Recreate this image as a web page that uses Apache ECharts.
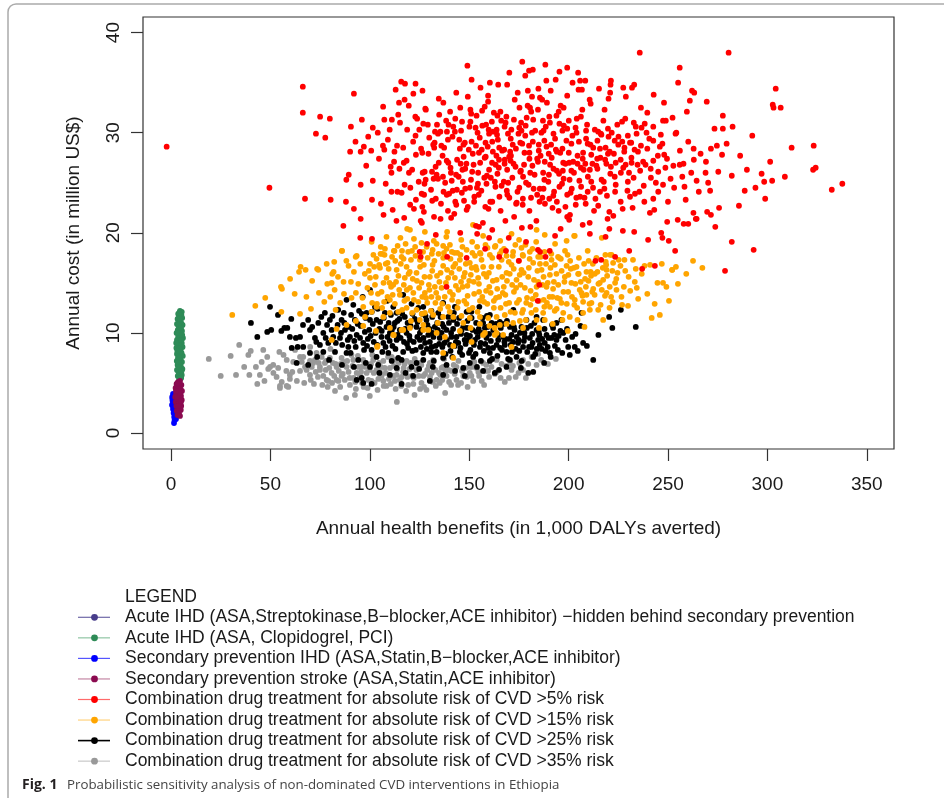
<!DOCTYPE html>
<html><head><meta charset="utf-8">
<script src="https://cdn.jsdelivr.net/npm/echarts@6/dist/echarts.min.js"></script>
<style>html,body{margin:0;padding:0;background:#fff}#c{width:944px;height:798px}</style>
</head><body><div id="c"></div>
<script>
// ---------------- DATA ----------------
const seriesNames = [
  'Acute IHD (ASA,Streptokinase,B\u2212blocker,ACE inhibitor) \u2212hidden behind secondary prevention',
  'Acute IHD (ASA, Clopidogrel, PCI)',
  'Secondary prevention IHD (ASA,Statin,B\u2212blocker,ACE inhibitor)',
  'Secondary prevention stroke (ASA,Statin,ACE inhibitor)',
  'Combination drug treatment for absolute risk of CVD >5% risk',
  'Combination drug treatment for absolute risk of CVD >15% risk',
  'Combination drug treatment for absolute risk of CVD >25% risk',
  'Combination drug treatment for absolute risk of CVD >35% risk'
];
const xTicks = [0, 50, 100, 150, 200, 250, 300, 350];
const yTicks = [0, 10, 20, 30, 40];

const acuteIHD1 = [[3.0,3.5],[3.5,3.0],[4.0,3.8],[3.2,2.5],[3.8,4.2],[3.4,3.9],[4.2,2.9]];

const acuteIHD2 = [[4.5,12.2],[5.4,12.1],[3.6,11.9],[4.8,11.7],[5.6,11.5],[3.3,11.4],[4.2,11.2],[5.1,11.0],[3.0,10.9],[5.8,10.8],[4.0,10.6],[4.7,10.4],[3.4,10.3],[5.5,10.2],[2.8,10.0],[4.3,9.9],[5.0,9.7],[3.6,9.6],[6.0,9.5],[3.0,9.3],[4.6,9.2],[5.4,9.0],[3.3,8.9],[4.1,8.7],[5.8,8.6],[2.7,8.5],[4.9,8.4],[3.7,8.2],[5.3,8.0],[3.0,7.9],[4.4,7.8],[5.9,7.7],[3.5,7.5],[4.8,7.3],[2.9,7.2],[5.5,7.1],[4.0,7.0],[3.3,6.8],[5.0,6.6],[4.3,6.5],[5.7,6.4],[3.0,6.3],[3.8,6.1],[4.9,6.0],[5.4,5.8],[3.4,5.7],[4.5,5.6],[4.1,5.4],[5.1,5.5],[3.7,10.8],[4.4,10.0],[3.9,9.0],[4.5,8.1],[4.0,7.5],[4.6,6.8],[3.9,11.5],[5.2,11.8],[4.1,12.0],[3.5,10.0],[5.2,9.3],[4.2,8.4],[3.5,7.0],[5.3,6.2],[4.6,11.4],[3.2,8.2],[5.0,10.5],[3.8,6.6],[5.6,9.8],[2.6,9.0]];

const secIHD = [[1.0,3.9],[0.6,3.6],[1.5,3.4],[0.8,3.2],[1.2,3.0],[0.5,2.8],[1.4,2.6],[1.0,2.4],[1.7,2.2],[1.3,2.0],[2.0,1.8],[1.6,1.6],[2.2,1.5],[1.8,1.3],[1.5,1.0],[2.5,1.4],[0.7,3.4],[1.1,2.7]];

const secStroke = [[3.6,5.1],[4.5,5.2],[2.8,4.9],[5.2,4.8],[3.9,4.7],[2.3,4.5],[4.7,4.4],[3.2,4.3],[5.5,4.2],[4.1,4.1],[2.6,3.9],[3.6,3.8],[5.0,3.7],[2.1,3.6],[4.4,3.5],[3.1,3.4],[5.4,3.3],[3.9,3.2],[2.4,3.1],[4.8,3.0],[3.4,2.9],[5.1,2.7],[2.7,2.7],[4.2,2.6],[3.5,2.4],[4.9,2.3],[2.9,2.2],[4.0,2.0],[3.3,1.8],[4.5,1.7],[3.8,4.4],[4.3,3.0],[3.0,3.6],[4.6,4.0],[2.5,4.2],[3.7,2.7],[5.0,3.2],[4.0,5.0],[3.3,5.0]];

const risk5 = [[-2.2,28.6],[49.5,24.5],[235.8,38.0],[280.5,38.0],
[176.7,37.1],[149.1,36.7],[255.9,36.5],[199.3,36.5],[182.0,36.3],[180.1,36.2],[195.4,36.1],[204.8,36.0],[178.2,35.7],
[66.3,34.6],[151.2,35.3],[160.4,35.0],[169.1,34.8],[188.8,35.2],[193.5,35.3],[202.0,35.0],[205.8,35.2],[208.4,35.2],[221.3,35.2],[221.1,34.8],[255.1,35.0],[115.8,35.1],[117.7,34.9],[123.0,34.9],[155.7,34.5],[184.8,34.4],[191.0,34.2],[179.5,34.2],[174.4,34.0],[205.0,34.3],[206.7,34.3],[233.0,34.8],[231.9,34.5],[227.5,34.5],[220.9,34.0],[304.2,34.4],[113.0,34.3],[92.0,33.9],[121.9,33.9],[149.3,33.6],[159.5,33.7],[262.1,34.2],[263.2,34.0],
[66.3,32.0],[134.7,33.4],[117.5,33.3],[114.7,33.0],[119.6,32.7],[106.7,32.6],[127.9,32.4],[75.0,31.6],[79.9,31.4],[181.6,33.6],[185.6,33.5],[186.7,33.3],[172.9,33.3],[159.5,33.1],[199.3,33.7],[220.1,33.4],[228.8,33.6],[242.8,33.8],[261.0,33.2],[269.5,33.1],[175.3,32.5],[180.6,32.5],[184.6,32.3],[189.1,33.0],[196.0,32.7],[197.5,32.5],[206.9,32.3],[211.1,32.9],[218.1,32.3],[157.8,32.6],[156.5,32.2],[236.4,32.5],[259.5,32.1],[302.7,32.8],[303.1,32.5],[306.7,32.5],[140.4,32.1],[150.6,32.3],[165.7,32.1],[181.2,32.1],[195.0,32.1],
[72.9,29.9],[77.6,29.5],[90.5,30.6],[96.0,31.3],[101.5,30.5],[99.2,29.6],[107.3,31.3],[111.1,31.3],[114.3,31.8],[123.8,31.4],[118.8,30.3],[110.0,30.3],[124.9,30.3],[129.2,30.8],[133.8,30.8],[134.3,29.9],[123.0,29.7],[135.5,30.1],[139.6,30.8],[143.0,31.4],[146.4,31.1],[150.6,31.1],[145.9,30.2],[142.8,30.1],[153.2,30.5],[154.2,30.0],[158.5,30.8],[161.4,31.1],[164.2,31.7],[168.7,31.6],[172.5,31.3],[176.1,31.0],[178.4,30.7],[182.2,31.3],[187.1,31.2],[190.3,31.6],[193.9,31.7],[200.1,31.2],[204.1,31.4],[199.3,30.4],[203.5,30.5],[208.8,30.2],[214.9,30.1],[219.8,30.4],[216.5,29.8],[160.0,29.9],[163.8,30.3],[167.8,30.6],[169.5,29.9],[174.8,29.9],[176.3,30.2],[178.2,29.7],[181.6,30.0],[187.4,30.2],[192.4,29.9],[196.9,30.2],[228.5,31.4],[232.8,31.0],[233.8,30.6],[238.3,30.9],[242.6,30.6],[247.5,31.2],[248.9,31.2],[239.2,30.0],[246.4,29.8],[253.8,29.9],[273.4,30.4],[277.6,30.4],[282.5,30.6],[277.6,31.7],[225.1,29.6],[229.8,29.7],
[90.1,28.1],[92.8,29.1],[95.4,28.1],[100.7,28.2],[106.6,28.7],[107.3,28.3],[112.4,28.1],[113.7,28.7],[116.8,28.5],[123.2,27.8],[126.4,28.0],[132.6,29.0],[132.4,28.5],[137.4,28.5],[139.3,29.3],[145.3,28.4],[147.8,29.0],[151.2,29.1],[153.4,28.7],[156.3,28.3],[158.2,29.0],[161.6,29.1],[164.4,29.3],[161.9,28.1],[165.1,28.5],[167.6,28.3],[170.6,28.1],[171.9,28.8],[176.7,28.9],[180.1,28.7],[185.0,28.8],[187.8,29.2],[191.2,28.8],[196.9,28.4],[201.4,28.9],[205.2,29.1],[209.6,28.9],[212.4,28.5],[214.5,29.2],[218.6,28.5],[220.7,28.1],[223.2,29.2],[227.0,29.1],[228.1,28.5],[231.5,29.0],[233.2,28.3],[236.4,28.7],[242.6,29.2],[247.2,28.9],[248.1,27.8],[260.2,29.1],[262.9,28.4],[271.6,28.4],[274.6,28.7],[277.2,27.8],[312.2,28.5],[323.3,28.7],[171.0,27.7],[180.3,28.0],[194.1,28.1],[207.3,28.0],
[89.4,25.8],[88.2,25.3],[95.4,24.8],[101.5,25.2],[110.5,26.6],[110.9,26.0],[114.9,26.4],[117.1,27.0],[121.3,26.3],[126.6,26.0],[128.1,25.3],[131.3,26.1],[133.6,25.8],[134.7,27.0],[138.7,27.2],[140.6,26.5],[143.4,25.8],[145.7,26.9],[147.2,27.6],[148.0,26.4],[151.5,26.1],[155.5,27.0],[158.3,27.6],[160.0,26.3],[157.6,25.5],[163.3,26.8],[165.0,27.3],[167.8,26.9],[169.1,26.3],[170.8,27.2],[173.3,26.6],[175.7,26.1],[177.6,26.8],[181.8,26.7],[184.2,27.4],[185.9,27.7],[188.0,27.1],[190.7,26.8],[192.4,26.4],[190.1,25.8],[195.2,25.9],[197.3,27.0],[200.3,27.0],[201.4,26.2],[204.5,26.9],[206.2,26.5],[208.4,26.9],[212.0,26.9],[210.7,26.3],[214.5,26.4],[216.0,27.5],[219.0,26.9],[221.3,26.6],[223.7,27.0],[226.2,27.3],[227.5,26.5],[230.4,26.0],[231.7,27.0],[234.7,26.8],[237.5,27.1],[242.6,27.2],[241.3,26.4],[245.1,26.1],[248.7,26.5],[252.7,26.7],[255.9,26.8],[257.8,26.9],[261.7,26.0],[263.0,27.3],[269.1,27.1],[268.9,26.0],[275.3,26.1],[282.1,25.7],[289.7,26.3],[297.1,25.9],[301.4,27.1],[302.4,25.2],[308.8,25.6],[323.0,26.3],[324.3,26.5],[337.7,24.9],[332.4,24.3],[294.0,24.5],[288.6,24.2],[298.9,23.4],[285.7,22.7],[298.4,25.1],
[67.4,23.4],[80.3,23.3],[88.0,23.1],[92.0,22.4],[95.4,21.4],[105.6,22.9],[106.9,21.8],[110.9,24.1],[113.9,24.1],[117.5,24.8],[120.4,24.5],[127.5,24.9],[127.3,23.8],[123.2,23.3],[122.2,22.4],[126.4,22.6],[127.2,22.1],[132.1,25.4],[133.2,23.4],[136.8,25.6],[138.7,23.8],[139.3,22.2],[141.7,24.2],[143.0,23.1],[143.8,24.3],[146.8,25.1],[147.4,23.2],[148.7,22.3],[150.4,24.5],[152.5,23.1],[154.4,24.9],[154.8,23.8],[158.7,24.9],[159.7,22.4],[161.6,23.1],[162.9,25.1],[164.2,25.9],[166.3,24.7],[168.9,24.2],[170.2,23.5],[173.6,22.9],[175.2,24.5],[177.0,23.4],[179.9,24.8],[180.3,22.2],[184.2,23.8],[185.4,23.1],[187.4,24.4],[187.8,25.3],[190.3,23.4],[192.7,24.1],[194.1,23.1],[195.4,24.6],[197.5,25.4],[198.4,22.6],[199.3,23.8],[200.7,21.8],[201.6,24.4],[203.9,23.5],[206.3,24.6],[208.6,22.9],[209.6,24.1],[211.4,25.1],[213.5,23.4],[215.8,24.1],[217.7,25.1],[219.6,21.4],[220.5,22.1],[223.4,24.1],[226.2,23.1],[229.6,24.2],[230.9,23.6],[232.2,22.5],[235.6,24.1],[238.1,23.1],[240.9,22.0],[242.6,23.4],[245.1,24.1],[247.5,24.8],[250.0,23.1],[249.6,21.1],[254.9,21.3],[257.9,20.9],[260.2,20.9],[264.4,21.4],[269.7,22.1],[271.6,21.8],[273.8,20.6],[275.7,22.5],[265.5,24.1],[271.2,24.2],[258.3,24.6],[264.4,25.2],
[86.7,20.7],[95.2,19.5],[101.1,19.4],[113.4,21.2],[117.3,21.5],[125.6,21.2],[126.2,21.0],[132.3,21.6],[140.9,21.5],[153.4,20.7],[154.9,20.6],[154.0,19.9],[160.0,19.5],[168.2,21.2],[169.9,19.5],[176.5,20.5],[178.6,19.1],[190.5,18.2],[185.6,18.1],[196.0,20.4],[200.3,21.3],[218.6,19.6],[220.5,20.4],[227.3,20.2],[233.0,20.1],[230.5,18.2],[237.0,16.4],[243.4,16.7],[247.2,19.5],[250.4,19.2],[253.6,18.2],[264.0,21.4],[282.1,19.1],[293.1,18.3],[278.7,16.2],[125.1,18.1],[125.6,17.6],[138.9,17.6],[148.7,17.5],[165.1,17.6],[168.5,18.2],[184.6,18.3],[188.4,17.6],[223.4,17.6],[213.5,17.2],[216.4,17.3],[138.6,14.6],[185.3,14.8],[184.5,13.2],
[118.5,27.2],[121.8,29.1],[124.6,25.1],[126.9,30.9],[129.5,27.9],[130.8,24.3],[131.9,28.8],[133.1,26.6],[134.9,31.8],[135.8,22.9],[136.6,27.7],[137.9,25.0],[138.8,30.1],[139.9,23.9],[140.8,26.0],[141.6,29.6],[142.5,21.9],[143.9,27.3],[144.7,25.6],[145.5,32.5],[146.3,24.0],[147.1,28.8],[148.6,26.9],[149.3,22.6],[150.1,30.6],[150.9,25.3],[151.8,27.9],[152.6,23.6],[153.7,31.7],[154.5,26.0],[155.3,29.5],[156.1,24.2],[156.9,21.0],[157.8,27.5],[158.9,25.7],[159.8,30.3],[160.6,23.1],[161.5,27.0],[162.4,32.0],[163.2,24.6],[164.0,29.8],[164.9,26.5],[165.8,22.2],[166.6,28.2],[167.4,25.1],[168.3,31.0],[169.2,23.8],[170.1,27.6],[170.9,29.4],[171.7,25.5],[172.6,21.6],[173.5,28.4],[174.3,24.1],[175.2,30.5],[176.0,26.2],[176.9,22.8],[177.8,28.0],[178.6,25.0],[179.4,32.7],[180.3,27.4],[181.1,23.5],[182.0,29.1],[182.9,25.8],[183.8,21.2],[184.6,27.1],[185.5,24.4],[186.3,30.0],[187.2,26.0],[188.1,22.9],[188.9,28.6],[189.8,25.1],[190.6,31.0],[191.5,27.5],[192.3,23.7],[193.2,29.4],[194.1,26.2],[195.0,22.2],[195.8,28.0],[196.7,24.9],[197.6,30.7],[198.4,26.9],[199.3,21.6],[200.1,28.0],[201.0,24.0],[201.9,29.7],[202.7,26.0],[203.6,22.8],[204.5,27.7],[205.4,25.2],[206.2,31.6],[207.1,27.4],[208.0,23.5],[208.8,29.4],[209.7,25.6],[210.6,21.0],[211.4,27.8],[212.3,24.5],[213.2,30.3],[214.0,26.7],[214.9,22.7],[215.8,28.4],[216.6,25.3],[217.5,31.2],[218.4,27.3],[219.3,23.7],[220.1,29.6],[221.0,25.9],[222.8,27.9],[223.7,24.8],[224.5,30.8],[226.3,26.0],[227.2,22.4],[228.0,28.1],[229.8,25.1],[231.6,27.5],[233.4,23.9],[234.2,29.9],[236.0,26.2],[237.8,24.7],[239.6,28.4],[241.4,25.5],[243.1,22.3],[244.9,27.7],[120.3,22.8],[122.9,31.6],[126.1,23.9],[128.2,32.3],[112.2,27.1],[109.1,29.3],[104.6,27.4],[101.1,23.3],[98.2,26.7],[116.0,24.0],[119.7,26.0],[108.0,24.9],[104.0,30.0],[97.0,28.6],[111.5,22.3],[115.2,31.0],[126.5,34.2],[137.0,33.0],[143.5,34.0],[164.6,34.8],[170.2,36.0],[188.3,36.8],[210.6,33.3],[215.3,34.4],[239.6,32.0],[248.0,33.0],[252.3,31.5],[256.0,28.2],[258.9,23.3],[253.1,24.5],[266.4,27.9],[270.2,25.0],[279.5,28.9],[286.3,27.7],[292.4,29.7],[262.8,22.0],[246.6,20.0],[240.0,19.3],[210.7,19.9],[193.2,19.7],[180.8,20.6],[161.6,20.3],[145.5,20.0],[133.2,19.8],[128.8,18.9],[175.0,17.2],[158.0,18.4],[135.6,21.4],[222.5,21.7],[207.1,20.8],
[125.8,28.4],[127.6,26.1],[129.9,29.5],[131.4,23.2],[132.8,30.1],[134.3,25.4],[136.0,28.7],[137.1,24.1],[138.4,31.2],[139.5,27.0],[141.2,25.2],[142.0,30.6],[143.5,22.8],[145.0,29.3],[146.6,26.3],[148.0,24.4],[149.8,28.3],[151.0,31.9],[152.2,26.8],[153.9,24.5],[154.9,28.0],[156.6,30.7],[158.1,22.6],[159.3,28.6],[160.9,25.5],[162.0,30.1],[163.7,27.7],[165.2,23.6],[166.1,31.2],[167.9,27.3],[169.6,25.0],[171.2,30.3],[172.3,26.9],[173.9,23.0],[175.7,29.0],[177.1,25.6],[178.9,31.5],[180.7,26.0],[182.4,24.4],[183.2,30.2],[185.0,28.2],[186.8,23.5],[188.5,30.6],[190.0,27.9],[191.9,22.5],[193.6,28.3],[195.4,30.9],[197.1,26.2],[198.9,29.2],[200.5,25.3],[202.3,27.1],[204.0,30.0],[205.8,23.6],[207.6,26.3],[209.3,30.8],[211.0,28.8],[212.8,22.2],[214.4,27.4],[216.2,29.9],[218.0,24.4],[219.8,27.9],[221.7,30.0],[223.2,25.6],[225.0,28.8],[226.9,31.1],[228.7,26.8],[230.9,29.0],[232.7,25.5],[234.9,28.1],[236.7,30.5],[238.7,26.8],[240.6,29.4],[243.9,25.0],[245.9,28.6],[249.5,27.4],[251.3,25.4],[254.2,30.0],[257.2,25.6]];

const risk15 = [[30.8,11.8],[42.4,12.7],[47.4,13.5],[55.3,14.6],[55.8,14.4],[55.5,12.1],[64.9,11.9],[64.4,16.1],[67.7,16.3],[74.1,16.3],[78.3,16.9],[82.1,17.1],[86.0,18.2],[89.3,16.7],[93.4,17.7],[95.2,16.9],[81.1,15.9],[84.0,15.6],[80.8,15.0],[86.8,15.1],[90.5,15.1],[94.2,14.9],[82.3,14.3],[87.0,13.9],[93.0,14.0],[77.1,13.1],[80.1,13.6],[82.8,12.3],[70.4,12.4],[97.5,15.9],[100.1,16.9],[103.4,17.4],[105.4,17.9],[107.4,17.8],[108.9,17.0],[112.1,18.2],[116.2,18.2],[117.0,17.4],[119.3,18.1],[121.2,18.2],[120.2,20.3],[127.7,20.1],[131.6,18.3],[131.2,17.9],[133.6,18.9],[136.9,18.7],[140.3,18.8],[141.3,18.1],[144.0,18.0],[148.7,18.3],[151.5,19.1],[154.0,18.6],[155.4,18.0],[159.2,18.5],[162.9,18.6],[166.3,18.2],[168.8,17.7],[172.1,18.1],[175.1,19.3],[176.3,18.5],[183.9,20.3],[177.1,17.7],[180.5,18.1],[184.7,17.6],[187.9,18.1],[191.4,17.3],[195.3,17.5],[199.0,16.7],[202.8,19.7],[204.0,16.6],[205.1,15.9],[209.0,16.1],[210.0,15.2],[212.4,14.4],[218.5,17.8],[218.7,17.1],[221.6,17.8],[222.4,17.0],[224.6,16.0],[219.1,16.3],[215.7,15.0],[219.1,14.0],[222.1,13.1],[224.1,14.3],[226.6,13.6],[226.9,12.8],[227.8,14.6],[229.9,12.7],[233.3,15.1],[235.0,13.4],[241.8,11.5],[244.7,15.0],[247.5,15.0],[249.2,14.6],[245.9,11.8],[252.1,16.3],[262.6,17.2],[267.3,16.5],[217.4,11.3],[210.7,12.3],[207.3,12.0],[208.0,10.6],[204.5,11.3],[200.6,11.6],[197.3,12.0],[196.9,11.3],[194.0,12.4],[190.6,12.6],[187.2,12.0],[188.0,11.3],[183.9,11.3],[181.3,12.0],[178.5,11.3],[175.5,11.2],[172.1,11.0],[168.8,10.9],[165.4,10.8],[162.9,9.8],[167.1,9.8],[171.3,8.6],[162.9,10.5],[157.9,10.0],[155.4,10.9],[151.2,9.1],[150.7,10.5],[147.0,11.0],[142.0,7.5],[142.0,8.7],[136.9,8.0],[137.8,9.6],[133.6,10.0],[129.4,10.3],[126.9,10.8],[125.2,11.3],[120.2,10.5],[116.0,10.3],[111.8,9.8],[110.1,10.5],[103.7,8.6],[96.7,10.7],[93.0,11.2],[88.3,10.8],[83.3,10.4],[80.8,9.3],[96.7,12.6],[100.9,12.1],[103.4,12.6],[106.8,11.6],[110.1,12.0],[114.3,12.1],[118.5,12.5],[123.5,12.3],[127.7,12.0],[131.9,11.8],[136.9,11.6],[142.0,11.6],[146.1,11.7],[150.3,11.5],[155.4,11.6],[159.6,11.5],[163.8,11.6],[167.9,11.8],[173.0,12.0],[177.1,12.3],
[100.1,15.5],[102.6,14.8],[105.1,16.5],[105.9,14.1],[108.4,15.5],[110.1,13.3],[111.8,14.8],[113.5,16.3],[115.1,13.8],[117.6,15.5],[118.5,16.6],[120.2,14.5],[122.2,13.3],[123.5,16.0],[125.2,17.3],[126.0,15.0],[127.7,14.0],[128.9,13.0],[130.2,15.6],[131.6,16.8],[132.7,14.6],[134.4,13.5],[135.6,16.0],[136.9,17.5],[138.3,15.0],[139.4,12.6],[140.3,14.1],[142.0,16.6],[142.8,15.5],[144.5,13.1],[145.3,17.3],[146.7,14.6],[147.8,16.0],[149.2,13.7],[150.3,17.0],[151.7,12.5],[152.3,15.1],[153.7,16.3],[155.0,14.1],[156.2,17.3],[157.5,13.1],[158.7,15.6],[160.1,14.6],[161.2,16.6],[162.4,12.5],[163.8,15.3],[165.1,13.6],[166.3,17.3],[167.4,14.6],[168.8,16.0],[170.1,13.0],[171.3,16.8],[172.5,14.1],[173.8,15.3],[175.1,13.3],[176.3,16.3],[178.0,14.5],[179.7,15.6],[180.8,12.8],[182.2,17.0],[183.5,13.8],[184.7,15.1],[186.4,16.3],[187.5,13.3],[188.9,14.6],[190.6,15.8],[191.9,13.6],[193.1,16.8],[194.8,14.8],[196.4,13.0],[198.1,15.6],[199.8,14.1],[201.4,15.0],[203.1,13.3],[205.6,14.3],[207.3,13.1],[209.0,13.8],[211.5,13.0],[213.2,15.9],[214.9,12.3],[217.4,15.3],[220.7,14.6],
[103.9,8.7],[112.1,9.8],[116.8,10.3],[126.9,10.3],[157.0,9.8],[163.8,10.0],[177.1,10.5],
[118.8,20.4],[122.2,19.4],[203.1,19.7],[216.7,19.5],[183.7,19.1],[86.0,18.2],[65.2,16.6],[73.5,16.4],[81.8,16.1],[92.9,17.6],[106.2,17.9],[112.4,18.2],[228.1,17.3],[232.4,17.3],[233.8,16.4],[252.1,16.3],[254.0,16.6],[211.1,16.1],[220.9,17.8],
[96.3,13.5],[98.8,14.5],[99.5,16.2],[101.2,13.0],[101.8,17.8],[103.0,15.6],[104.1,13.9],[104.7,16.8],[106.2,12.5],[106.9,15.0],[107.6,18.4],[108.9,13.6],[109.5,16.4],[110.7,14.6],[111.2,17.6],[112.6,12.9],[113.2,15.1],[114.0,18.7],[114.8,14.3],[115.6,16.9],[116.3,12.3],[117.1,14.8],[118.0,18.9],[118.9,13.4],[119.5,15.9],[120.7,17.3],[121.3,12.0],[121.9,14.0],[122.8,18.6],[123.7,15.2],[124.4,13.1],[125.3,16.6],[126.1,11.9],[126.8,18.1],[127.5,15.6],[128.3,13.5],[129.1,17.5],[130.0,14.3],[130.7,12.2],[131.4,16.2],[132.2,19.2],[133.0,13.0],[133.8,15.7],[134.6,17.9],[135.4,12.4],[136.1,14.5],[136.9,16.7],[137.7,13.6],[138.6,18.4],[139.4,15.5],[140.2,12.1],[141.1,16.0],[141.8,13.8],[142.6,18.0],[143.3,14.7],[144.1,12.5],[145.0,16.4],[145.9,15.1],[146.6,18.6],[147.5,13.2],[148.3,16.9],[149.1,14.7],[149.9,12.3],[150.8,15.8],[151.6,18.0],[152.5,13.9],[153.3,16.6],[154.2,12.1],[154.9,14.9],[155.7,17.9],[156.6,13.6],[157.4,15.9],[158.2,18.8],[159.1,12.9],[159.9,16.0],[160.8,14.0],[161.6,17.5],[162.4,13.2],[163.2,18.7],[164.1,14.4],[164.9,16.6],[165.8,12.5],[166.6,15.6],[167.5,18.4],[168.2,13.8],[169.0,15.2],[169.9,17.1],[170.8,12.1],[171.6,14.8],[172.4,16.4],[173.2,18.8],[174.0,13.0],[174.9,17.2],[175.8,14.8],[176.6,12.0],[177.4,16.0],[178.3,18.8],[179.1,13.5],[180.0,16.5],[180.9,14.2],[181.8,18.4],[182.6,15.3],[183.5,12.3],[184.3,16.2],[185.2,13.2],[186.0,17.6],[186.9,14.8],[187.8,12.6],[188.6,16.9],[189.5,15.0],[190.4,13.6],[191.3,17.9],[192.2,14.4],[193.0,12.2],[193.9,15.9],[194.7,17.6],[195.6,13.4],[196.5,16.2],[197.4,14.1],[198.2,18.2],[199.1,12.9],[199.9,15.8],[200.8,17.2],[201.7,13.6],[202.6,16.5],[203.4,14.9],[204.3,12.5],[205.2,17.5],[206.1,15.1],[207.0,13.7],[207.8,16.9],[208.7,14.6],[209.6,18.2],[210.5,12.9],[211.3,15.7],[212.2,16.9],[213.1,13.8],[214.0,17.5],[215.0,14.9],[216.1,12.8],[217.2,16.5],[218.3,13.7],[219.4,15.7],[220.6,12.5],[222.0,16.2],[223.4,15.0],[225.2,17.3],[228.5,16.2],[231.0,14.2],[236.8,15.9],[239.6,13.9],[241.0,16.8],[243.3,12.9],[246.9,16.9],[250.5,13.2],[255.0,14.9],[259.2,15.9],[88.2,17.2],[90.8,13.5],[92.0,16.1],[85.1,13.0],[78.6,14.9],[74.4,14.0],[71.0,15.2],[68.1,13.6],[62.2,13.9],[59.9,15.4],[100.9,19.1],[108.4,19.6],[115.4,19.5],[126.0,19.0],[138.5,19.6],[146.0,19.3],[157.0,19.7],[165.6,19.2],[171.3,19.9],[193.2,18.9],[199.0,19.2],[188.0,19.8],[151.9,20.8],[138.9,20.1],[97.6,11.6],[103.1,10.2],[120.7,11.2],[134.2,11.0],[145.3,10.2],[160.2,10.7],[185.1,10.5],[192.0,10.9],[199.6,10.2],
[100.6,14.0],[102.2,16.6],[103.6,12.9],[105.5,18.6],[107.2,13.1],[108.0,16.9],[109.9,15.0],[111.5,13.8],[112.8,17.2],[114.4,15.7],[116.0,17.6],[117.4,13.2],[118.6,14.3],[120.1,16.1],[121.6,15.4],[123.0,17.7],[124.8,14.5],[126.4,13.6],[127.2,16.8],[128.6,18.6],[129.7,14.8],[131.0,13.6],[132.5,17.2],[133.4,14.0],[135.0,15.1],[136.4,12.9],[137.3,18.0],[138.9,16.3],[140.6,17.4],[141.4,13.3],[143.0,16.9],[144.6,14.3],[145.6,17.8],[147.2,15.6],[148.6,12.9],[150.0,15.2],[151.3,16.5],[152.9,17.7],[154.5,15.5],[155.4,13.2],[157.0,16.6],[158.5,14.2],[160.4,17.8],[161.9,15.2],[163.5,13.5],[165.4,17.9],[166.9,14.0],[168.5,12.9],[170.4,15.9],[171.9,17.7],[173.6,14.5],[175.4,15.8],[176.9,17.8],[178.7,13.0],[180.4,17.4],[181.9,13.4],[183.9,14.6],[185.6,16.9],[187.4,15.6],[189.1,13.0],[190.9,16.5],[192.6,15.1],[194.3,13.5],[196.1,17.4],[197.9,15.1],[199.5,17.8],[201.1,16.4],[202.9,12.8],[204.8,15.9],[206.5,14.0],[208.3,15.4],[210.1,17.2],[211.9,14.1],[214.5,16.1],[216.7,14.3],[218.9,16.8],[221.4,13.6],[224.0,15.4],[226.1,16.7],[230.2,15.6],[234.3,14.5],[238.2,16.7]];

const risk25 = [[40.2,11.0],[43.4,9.6],[48.4,10.1],[50.4,10.3],[49.8,12.6],[53.8,11.8],[57.0,10.5],[58.5,10.5],[59.8,9.6],[62.8,9.5],[64.9,9.6],[60.7,8.5],[63.7,8.6],[63.2,7.0],[69.0,11.3],[69.9,10.3],[72.4,9.5],[69.0,6.8],[74.1,11.0],[74.9,8.8],[76.6,10.0],[77.4,12.0],[79.9,11.3],[80.8,10.3],[79.1,9.0],[82.5,8.1],[84.1,12.3],[85.8,11.3],[87.5,10.3],[88.3,13.3],[89.2,8.6],[91.7,12.8],[92.5,11.3],[93.4,9.8],[94.2,7.3],[95.9,5.5],[96.4,13.6],[96.7,5.0],[98.4,12.0],[99.7,10.3],[100.1,14.3],[100.9,8.3],[102.6,12.6],[103.4,11.3],[104.2,6.8],[105.9,9.6],[107.6,12.0],[108.4,10.6],[109.3,8.0],[111.8,12.6],[112.6,11.0],[113.5,9.3],[114.3,7.5],[116.8,13.8],[117.6,11.6],[118.5,10.0],[119.3,8.5],[121.0,6.6],[121.8,5.7],[123.5,10.6],[124.4,12.5],[125.2,9.3],[126.9,8.0],[128.5,11.3],[129.4,9.8],[130.2,5.2],[131.1,8.6],[132.7,10.6],[134.4,12.0],[135.2,9.5],[136.9,7.5],[138.6,10.3],[140.3,8.8],[142.0,11.3],[143.6,9.6],[145.3,8.1],[147.0,10.6],[147.8,5.7],[149.5,9.3],[151.2,11.5],[152.0,7.6],[153.7,10.1],[155.4,8.6],[157.0,11.0],[158.7,9.5],[160.4,8.0],[162.1,10.3],[162.9,6.0],[163.8,8.8],[165.4,11.1],[167.1,9.6],[168.8,8.1],[170.5,10.6],[172.1,9.1],[173.8,7.6],[175.5,10.0],[177.1,8.6],[178.8,11.3],[179.7,6.0],[180.5,9.5],[182.2,7.6],[183.9,10.3],[185.5,8.8],[187.2,11.3],[188.9,9.8],[190.6,8.0],[192.2,10.5],[193.9,9.3],[196.4,11.3],[197.3,10.0],[199.8,8.6],[200.6,7.8],[203.1,8.6],[207.3,9.0],[206.5,12.0],[212.4,7.3],[220.4,11.6],[233.8,10.6],[182.2,6.1],[168.8,6.6],[157.0,6.2],[147.0,6.5],[136.9,5.8],[110.1,5.8],[100.1,6.6],[93.4,5.3],
[106.8,9.0],[110.1,10.0],[115.1,10.3],[120.2,9.3],[125.2,10.0],[130.2,9.1],[133.6,8.1],[136.1,10.0],[141.1,9.6],[144.5,9.0],[148.7,9.8],[152.9,9.3],[156.2,10.0],[159.6,8.5],[164.6,9.8],[167.9,8.8],[171.3,9.8],[174.6,9.0],[178.0,9.6],[181.3,8.6],[184.7,9.3],[188.0,9.0],[191.4,9.5],[116.8,8.1],[126.9,7.3],[138.6,6.8],[150.3,7.0],[160.4,7.2],[170.5,7.3],[113.5,6.5],[123.5,7.0],[103.4,7.6],[96.7,9.0],[90.0,9.6],[85.0,9.5],[81.6,9.6],[76.6,8.1],[69.9,8.0],[66.5,8.6],[88.3,8.0],[100.1,11.3],[113.5,12.0],[126.9,12.6],[136.9,13.0],[148.7,12.1],[160.4,11.8],[183.9,11.6],[193.9,11.0],
[71.0,10.6],[73.1,9.1],[75.6,11.6],[77.8,9.5],[78.5,10.8],[81.2,11.7],[82.9,9.0],[83.8,10.8],[86.1,8.8],[86.9,12.0],[88.9,9.3],[90.6,11.8],[91.2,10.4],[92.9,8.6],[94.6,12.2],[95.4,10.7],[97.1,8.3],[97.9,11.5],[99.0,9.4],[101.5,10.9],[102.0,9.1],[104.0,12.4],[104.8,10.4],[106.3,8.1],[107.0,11.5],[108.9,9.6],[110.6,11.8],[111.4,8.7],[112.0,10.6],[114.0,9.8],[114.9,11.4],[116.0,7.3],[117.2,9.1],[119.0,11.0],[119.9,9.7],[121.4,8.2],[122.6,11.4],[123.9,9.6],[125.7,8.6],[126.4,11.9],[127.8,9.0],[129.0,10.8],[130.9,8.1],[131.6,10.0],[132.2,7.2],[133.9,11.0],[134.9,8.9],[136.4,10.9],[137.5,9.0],[138.1,7.9],[139.5,11.6],[140.9,10.0],[141.5,7.6],[142.7,8.7],[143.9,10.9],[145.9,9.9],[146.5,7.8],[148.2,8.9],[149.1,11.2],[150.6,8.3],[151.7,10.3],[153.2,7.9],[154.3,9.6],[155.9,7.2],[156.6,11.5],[158.1,8.9],[159.2,10.6],[160.9,9.2],[161.5,7.4],[163.1,9.9],[164.2,7.7],[165.9,10.5],[166.5,8.3],[168.3,9.4],[169.6,7.4],[170.9,8.8],[172.8,10.3],[173.4,8.4],[174.9,9.3],[176.4,7.2],[177.8,10.0],[179.2,8.1],[181.0,10.7],[181.9,9.0],[183.2,7.9],[185.0,10.1],[186.5,8.4],[187.9,10.4],[189.5,8.6],[191.0,7.6],[192.8,9.8],[194.6,8.3],[195.9,10.2],[198.5,9.3],[201.8,9.6],[204.6,8.2],[209.2,8.7],[215.0,9.8],[222.0,10.5],[226.3,12.3],[60.5,11.4],[66.4,10.8],[55.5,10.2],[73.5,7.6],[79.5,7.3],[86.0,6.8],[92.0,6.6],[98.0,7.0],[104.8,6.0],[111.0,7.2],[118.0,6.0],[124.8,6.4],[131.7,6.6],[142.9,6.2],[153.9,6.6],[165.0,6.3],[176.0,6.5],[187.7,7.0],[108.8,13.2],[121.0,12.9],[131.0,12.2],[142.8,12.6],[155.1,12.6],[172.2,12.3],[100.9,4.9],[116.0,4.9],
[85.5,10.0],[87.2,11.0],[89.5,10.6],[90.3,8.0],[92.2,9.2],[93.9,10.9],[95.1,9.5],[96.0,11.9],[97.5,10.1],[98.6,8.7],[100.4,9.7],[101.0,12.1],[102.9,10.0],[103.7,8.8],[105.2,11.1],[106.0,10.2],[107.9,8.6],[109.5,11.0],[110.0,9.2],[111.1,10.3],[112.9,8.4],[113.9,11.2],[115.5,9.5],[116.3,11.9],[117.8,10.4],[118.7,8.9],[120.5,10.7],[121.5,11.9],[122.1,9.1],[123.1,8.3],[124.0,11.1],[125.9,10.3],[127.0,9.5],[128.0,11.7],[128.7,8.4],[130.0,10.4],[131.4,11.6],[132.0,9.6],[133.1,8.7],[134.2,10.3],[135.6,11.6],[136.5,8.6],[137.2,10.6],[138.8,9.3],[139.8,11.0],[140.6,8.2],[141.9,10.4],[142.3,12.0],[143.3,9.1],[144.9,11.5],[145.6,8.5],[146.2,10.3],[147.7,9.3],[148.9,10.5],[149.9,8.0],[150.4,9.7],[151.1,12.1],[152.4,8.8],[153.5,11.0],[154.8,10.4],[155.8,9.0],[157.4,8.2],[157.9,10.5],[158.9,11.7],[160.0,9.9],[161.3,11.0],[162.0,8.5],[163.5,10.9],[164.6,9.3],[165.6,8.5],[166.9,10.9],[167.7,9.1],[169.0,11.2],[170.2,9.4],[171.5,8.1],[172.5,10.6],[173.9,9.6],[175.2,8.2],[176.3,10.6],[177.5,9.2],[179.0,10.5],[180.1,8.6],[181.7,9.9],[182.8,11.0],[184.0,8.4],[185.3,9.8],[186.7,9.4],[188.4,8.2],[189.9,9.5],[191.7,10.8],[193.1,8.7],[195.0,9.7],[196.8,8.0],[199.2,10.4],[203.5,9.9],[206.0,10.7]];

const risk35 = [[19.0,7.4],[25.0,5.7],[32.7,5.8],[34.3,8.8],[40.1,8.2],[39.4,5.8],[43.4,4.9],[44.7,5.8],[42.7,6.6],[46.4,8.3],[48.4,7.6],[48.9,6.4],[49.8,6.6],[51.4,6.8],[54.5,8.1],[53.1,5.6],[54.8,4.5],[59.0,4.6],[55.7,5.1],[59.8,5.4],[58.2,7.3],[61.5,7.1],[64.9,7.6],[68.2,6.3],[71.5,7.0],[74.9,6.6],[78.3,5.3],[82.5,4.2],[92.5,3.8],
[38.9,7.8],[51.5,6.0],[53.9,6.5],[54.8,4.7],[58.2,4.7],[59.8,5.8],[64.9,6.2],[67.4,6.6],[69.9,5.8],[72.4,7.3],[74.9,6.3],[77.4,7.0],[79.1,5.2],[80.8,6.0],[83.3,6.6],[85.8,5.7],[88.3,6.6],[90.0,4.8],[93.4,6.0],[95.9,6.6],[98.4,6.0],[100.9,5.2],[103.4,6.3],[105.9,5.7],[108.4,4.7],[110.1,6.5],[111.8,5.7],[113.6,3.1],[115.1,5.3],[116.8,6.1],[119.3,4.8],[121.0,5.7],[123.5,6.3],[126.0,5.0],[128.5,4.3],[131.1,6.0],[133.6,5.3],[136.1,6.5],[138.6,5.7],[141.1,6.2],[143.6,5.3],[147.0,5.7],[150.3,6.0],[153.7,6.5],[157.9,6.2],[161.2,6.6],[167.9,5.1],[171.3,6.3],[177.1,6.3],[183.9,6.8],[184.7,7.9],[177.1,7.3],[170.5,7.0],[66.5,7.6],[69.9,7.2],[73.2,8.0],[79.9,7.5],[85.8,7.5],[91.7,7.3],[96.7,7.3],[101.7,7.3],[106.8,7.2],[112.6,7.3],[118.5,7.2],[125.2,7.0],[130.2,7.0],[136.9,6.6],[143.6,6.6],[150.3,6.6],[157.0,7.0],[163.8,7.3],[76.6,5.7],[83.3,5.3],[95.0,5.7],[105.1,6.1],[113.5,5.8],[126.9,5.7],[135.2,5.0],[152.0,5.2],
[61.0,6.1],[63.3,5.2],[65.8,7.1],[67.0,5.0],[70.8,6.6],[71.9,4.9],[73.9,5.6],[75.8,7.6],[77.8,6.3],[78.8,4.6],[81.4,7.0],[82.1,5.7],[84.4,6.2],[85.1,4.6],[86.9,7.1],[87.4,5.3],[89.3,6.1],[90.8,7.8],[91.8,5.5],[93.0,4.4],[94.3,6.6],[96.1,5.0],[97.3,7.0],[98.9,4.5],[99.9,6.3],[101.3,7.8],[102.4,5.0],[103.9,4.3],[104.6,7.0],[106.8,5.2],[107.5,6.5],[109.2,7.6],[110.5,4.9],[112.1,6.7],[113.0,4.4],[114.5,7.0],[116.0,5.6],[117.5,6.9],[118.3,4.2],[120.0,6.4],[121.9,4.9],[122.6,7.4],[124.6,5.7],[125.9,6.8],[127.3,4.6],[128.9,6.3],[130.3,5.6],[131.9,7.3],[133.2,4.7],[134.8,6.0],[136.4,5.3],[137.4,7.4],[139.6,6.3],[140.9,4.8],[142.7,5.9],[144.6,7.2],[145.9,5.0],[148.1,6.5],[149.2,4.6],[151.1,5.7],[152.6,7.1],[154.6,6.1],[156.3,5.2],[158.6,6.8],[160.0,5.6],[162.4,7.4],[163.9,6.1],[165.8,5.5],[168.6,6.7],[173.4,5.6],[175.2,7.0],[179.7,6.9],[181.4,7.6],[186.2,7.3],[189.6,6.9],[193.6,7.4],[88.1,3.5],[100.0,3.7],[122.5,3.8],[137.9,4.0],[58.0,6.2],[56.6,7.8],[62.4,8.3],[70.0,8.6],[80.2,8.4],[47.0,5.2],[45.6,7.1],[36.8,6.6],[30.0,7.7],
[70.3,5.3],[72.8,6.1],[74.3,7.0],[76.1,4.8],[78.0,7.2],[79.6,6.5],[81.0,5.0],[82.8,6.9],[84.2,5.2],[85.4,6.9],[86.4,5.9],[88.6,7.2],[89.9,5.5],[91.3,6.7],[92.7,5.1],[94.0,7.7],[95.6,6.1],[96.9,4.6],[98.0,6.6],[99.3,5.3],[100.6,6.9],[102.0,6.0],[103.0,7.6],[104.3,5.4],[105.5,6.6],[107.0,4.7],[108.0,6.0],[109.6,5.4],[111.0,7.6],[112.6,5.2],[113.8,6.4],[115.8,4.7],[117.0,6.5],[118.9,5.6],[120.6,7.0],[122.1,5.5],[123.9,6.9],[125.3,4.4],[127.8,5.9],[129.7,6.7],[131.5,5.1],[133.0,6.3],[135.5,5.8],[138.0,6.2],[139.9,5.1],[142.2,6.8],[144.4,4.8],[146.4,6.2],[148.8,5.6],[151.5,6.6],[155.0,5.7],[157.5,4.8],[159.5,6.2],[162.9,5.9],[166.3,6.9],[170.0,5.5],[172.0,6.7],[174.8,6.0],[178.5,5.5]];

// ---------------- STYLE ----------------
const dotColors  = ['#483D8B', '#2E8B57', '#0000FF', '#8B0A50', '#FF0000', '#FFA500', '#000000', '#999999'];
const lineColors = ['#6f68a8', '#8fc4a3', '#5555ff', '#c487a5', '#ff6a6a', '#ffd27f', '#000000', '#c8c8c8'];
const FONT = '"Liberation Sans", Arial, Helvetica, sans-serif';

const dataSets = [acuteIHD1, acuteIHD2, secIHD, secStroke, risk5, risk15, risk25, risk35];
// drawing order (bottom -> top)
const drawOrder = [0, 1, 2, 3, 7, 6, 5, 4];

const chart = echarts.init(document.getElementById('c'), null, { renderer: 'canvas' });

const series = drawOrder.map(i => ({
  type: 'scatter',
  name: seriesNames[i],
  data: dataSets[i],
  symbol: 'circle',
  symbolSize: 5.8,
  itemStyle: { color: dotColors[i], opacity: 1 },
  silent: true,
  animation: false
}));

// legend drawn as graphic rows
const legendGraphics = [];
const legTop = 617.3, legStep = 20.55;
legendGraphics.push({ type: 'text', x: 125, y: 597, silent: true,
  style: { text: 'LEGEND', font: '17.5px ' + FONT, fill: '#1a1a1a', verticalAlign: 'middle', align: 'left' } });
seriesNames.forEach((nm, i) => {
  const yy = legTop + i * legStep;
  legendGraphics.push({ type: 'line', silent: true, shape: { x1: 78, y1: yy, x2: 110, y2: yy },
    style: { stroke: lineColors[i], lineWidth: i === 6 ? 1.6 : 1.2 } });
  legendGraphics.push({ type: 'circle', silent: true, shape: { cx: 94.5, cy: yy, r: 3.4 },
    style: { fill: dotColors[i] } });
  legendGraphics.push({ type: 'text', x: 125, y: yy, silent: true,
    style: { text: nm, font: '17.5px ' + FONT, fill: '#1a1a1a', verticalAlign: 'middle', align: 'left' } });
});

const option = {
  animation: false,
  backgroundColor: '#ffffff',
  grid: { left: 143, top: 17, width: 751, height: 432, show: true, borderColor: '#333', borderWidth: 1.2, backgroundColor: 'transparent' },
  xAxis: {
    type: 'value', min: -14.1, max: 363.7,
    axisLine: { show: false, onZero: false },
    splitLine: { show: false },
    axisTick: { show: true, inside: false, length: 12, lineStyle: { color: '#333', width: 1.2 }, customValues: xTicks },
    axisLabel: { customValues: xTicks, margin: 26, fontSize: 19, fontFamily: FONT, color: '#1a1a1a' },
    name: 'Annual health benefits (in 1,000 DALYs averted)',
    nameLocation: 'middle', nameGap: 70,
    nameTextStyle: { fontSize: 19, fontFamily: FONT, color: '#1a1a1a' }
  },
  yAxis: {
    type: 'value', min: -1.6, max: 41.56,
    axisLine: { show: false, onZero: false },
    splitLine: { show: false },
    axisTick: { show: true, inside: false, length: 12, lineStyle: { color: '#333', width: 1.2 }, customValues: yTicks },
    axisLabel: { customValues: yTicks, rotate: 90, margin: 20, fontSize: 19, fontFamily: FONT, color: '#1a1a1a' },
    name: 'Annual cost (in million US$)',
    nameLocation: 'middle', nameGap: 60,
    nameTextStyle: { fontSize: 19, fontFamily: FONT, color: '#1a1a1a' }
  },
  series: series,
  graphic: [
    { type: 'rect', silent: true, shape: { x: 8, y: 4, width: 1000, height: 900, r: 8 },
      style: { fill: 'none', stroke: '#ababab', lineWidth: 1.5 } },
    ...legendGraphics,
    { type: 'text', x: 22, y: 785, silent: true,
      style: { text: 'Fig. 1', font: 'bold 14px "Open Sans", sans-serif', fill: '#231f20', verticalAlign: 'middle', align: 'left' } },
    { type: 'text', x: 67, y: 785, silent: true,
      style: { text: 'Probabilistic sensitivity analysis of non-dominated CVD interventions in Ethiopia', font: '13.3px "Open Sans", sans-serif', fill: '#444', verticalAlign: 'middle', align: 'left' } }
  ]
};
chart.setOption(option);
</script>
</body></html>
